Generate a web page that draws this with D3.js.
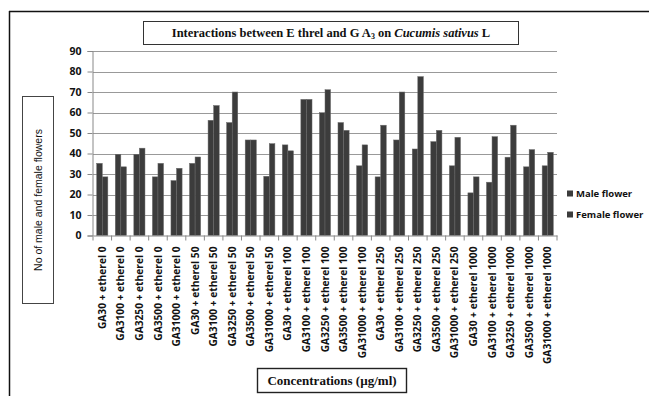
<!DOCTYPE html>
<html><head><meta charset="utf-8">
<script src="https://cdn.jsdelivr.net/npm/d3@7"></script>
<style>body{margin:0;background:#fff}svg{display:block}</style>
</head><body>
<script>
const categories = [
  "GA30 + etherel 0","GA3100 + etherel 0","GA3250 + etherel 0","GA3500 + etherel 0","GA31000 + etherel 0",
  "GA30 + etherel 50","GA3100 + etherel 50","GA3250 + etherel 50","GA3500 + etherel 50","GA31000 + etherel 50",
  "GA30 + etherel 100","GA3100 + etherel 100","GA3250 + etherel 100","GA3500 + etherel 100","GA31000 + etherel 100",
  "GA30 + etherel 250","GA3100 + etherel 250","GA3250 + etherel 250","GA3500 + etherel 250","GA31000 + etherel 250",
  "GA30 + etherel 1000","GA3100 + etherel 1000","GA3250 + etherel 1000","GA3500 + etherel 1000","GA31000 + etherel 1000"
];
const maleFlower = [35.2,39.6,39.6,28.6,26.8, 35.2,56.2,55.1,46.6,28.9, 44.2,66.4,59.9,55.1,34.0, 28.6,46.6,42.2,45.8,34.0, 20.8,26.0,38.2,33.5,34.0];
const femaleFlower = [28.6,33.5,42.6,35.2,32.8, 38.3,63.4,70.0,46.6,44.8, 41.3,66.4,71.1,51.3,44.2, 53.8,70.0,77.5,51.3,47.9, 28.6,48.2,53.8,41.9,40.6];
const seriesNames = ["Male flower","Female flower"];
const yTicks = [0,10,20,30,40,50,60,70,80,90];

const W = 649, H = 396;
const svg = d3.select("body").append("svg").attr("width", W).attr("height", H);

// outer frame (only left/top visible)
svg.append("line").attr("x1",9).attr("y1",11.5).attr("x2",W).attr("y2",11.5).attr("stroke","#111").attr("stroke-width",1.5);
svg.append("line").attr("x1",9.5).attr("y1",11).attr("x2",9.5).attr("y2",H).attr("stroke","#111").attr("stroke-width",1.5);

const plot = {left: 93, right: 557, top: 51, bottom: 235.5};
const x = d3.scaleBand().domain(categories).range([plot.left, plot.right]).paddingInner(0.4).paddingOuter(0.2);
const y = d3.scaleLinear().domain([0,90]).range([plot.bottom, plot.top]);

// gridlines
svg.append("g").selectAll("line").data(yTicks.filter(d=>d>0)).join("line")
  .attr("x1",plot.left).attr("x2",plot.right)
  .attr("y1",d=>Math.round(y(d))+0.5).attr("y2",d=>Math.round(y(d))+0.5)
  .attr("stroke","#999").attr("stroke-width",1);

// bars
const sub = d3.scaleBand().domain(seriesNames).range([0, x.bandwidth()]);
const colors = {"Male flower":"#3c3c3c","Female flower":"#3c3c3c"};
const gBars = svg.append("g");
categories.forEach((c,i)=>{
  [maleFlower[i], femaleFlower[i]].forEach((v,j)=>{
    const s = seriesNames[j];
    gBars.append("rect")
      .attr("x", x(c)+sub(s)).attr("width", sub.bandwidth())
      .attr("y", y(v)).attr("height", y(0)-y(v))
      .attr("fill", colors[s]).attr("stroke","#6a6a6a").attr("stroke-width",0.5);
  });
});

// y axis
const yAxis = d3.axisLeft(y).tickValues(yTicks).tickSize(5).tickPadding(6);
const gy = svg.append("g").attr("transform",`translate(${plot.left-0.5},0)`).call(yAxis);
gy.select(".domain").attr("stroke","#888");
gy.selectAll(".tick line").attr("stroke","#888");
gy.selectAll("text").attr("font-family","'Open Sans', 'Liberation Sans', sans-serif").attr("font-weight","bold").attr("font-size","10.5px").attr("fill","#111");

// x axis
const xAxis = d3.axisBottom(x).tickSize(0).tickPadding(0);
const gx = svg.append("g").attr("transform",`translate(0,${plot.bottom})`).call(xAxis);
gx.select(".domain").attr("stroke","#888");
const bounds = d3.range(categories.length+1).map(i => plot.left + i*(plot.right-plot.left)/categories.length);
gx.append("g").selectAll("line").data(bounds).join("line")
  .attr("x1",d=>d).attr("x2",d=>d).attr("y1",0).attr("y2",5).attr("stroke","#888");
gx.selectAll(".tick text")
  .attr("transform","rotate(-90)")
  .attr("text-anchor","end").attr("dy","0.35em")
  .attr("x",-11).attr("y",0)
  .attr("font-family","'Open Sans', 'Liberation Sans', sans-serif").attr("font-weight","bold").attr("font-size","10.2px").attr("fill","#111");

// title box
svg.append("rect").attr("x",143.5).attr("y",21.5).attr("width",375).attr("height",23).attr("fill","#fff").attr("stroke","#333").attr("stroke-width",1);
const title = svg.append("text").attr("x",331).attr("y",37).attr("text-anchor","middle")
  .attr("font-family","'Liberation Serif', serif").attr("font-weight","bold").attr("font-size","12.5px").attr("fill","#111");
title.append("tspan").text("Interactions between E threl and G A");
title.append("tspan").attr("font-size","8px").attr("dy","2").text("3");
title.append("tspan").attr("dy","-2").text(" on ");
title.append("tspan").attr("font-style","italic").text("Cucumis sativus");
title.append("tspan").text(" L");

// y title box
svg.append("rect").attr("x",22.5).attr("y",96.5).attr("width",31).attr("height",207).attr("fill","#fff").attr("stroke","#444").attr("stroke-width",1);
svg.append("text").attr("transform","translate(41.5,200) rotate(-90)").attr("text-anchor","middle")
  .attr("font-family","'Liberation Sans', Arial, sans-serif").attr("font-size","10.5px").attr("fill","#111")
  .text("No of male and female flowers");

// x title box
svg.append("rect").attr("x",257.5).attr("y",368.5).attr("width",149).attr("height",24).attr("fill","#fff").attr("stroke","#222").attr("stroke-width",1.4);
svg.append("text").attr("x",332).attr("y",385).attr("text-anchor","middle")
  .attr("font-family","'Liberation Serif', serif").attr("font-weight","bold").attr("font-size","13px").attr("fill","#111")
  .text("Concentrations  (\u00b5g/ml)");

// legend
const leg = svg.append("g").attr("transform","translate(567,0)");
seriesNames.forEach((s,i)=>{
  const yy = 194 + i*21;
  leg.append("rect").attr("x",0).attr("y",yy-3.5).attr("width",6).attr("height",6).attr("fill",colors[s]);
  leg.append("text").attr("x",9).attr("y",yy).attr("dy","0.35em")
    .attr("font-family","'Open Sans', 'Liberation Sans', sans-serif").attr("font-weight","bold").attr("font-size","9.5px").attr("fill","#111").text(s);
});
</script>
</body></html>
